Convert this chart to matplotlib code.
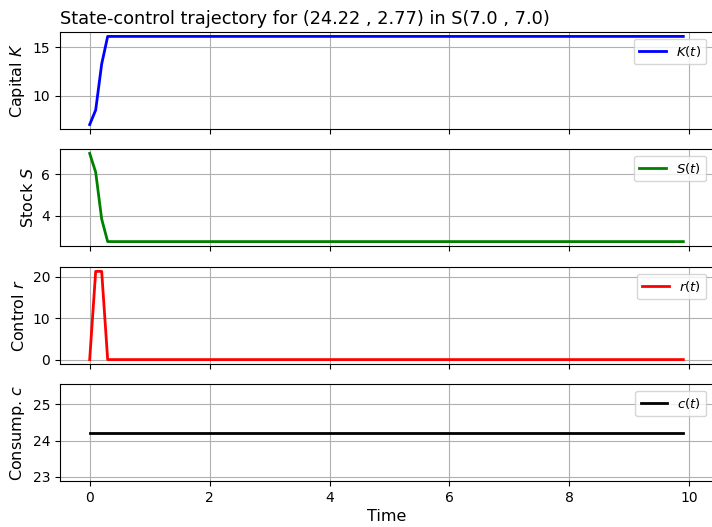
import numpy as np
import matplotlib.pyplot as plt

# time grid, step 0.1 up to 9.9
t = np.arange(100) / 10.0

# state and control paths (first few steps, then flat)
K_start = [7.0, 8.5, 13.25]
K_end = 16.1
S_start = [7.0, 6.1, 3.85]
S_end = 2.77
r_start = [0.0, 21.3, 21.3]
r_end = 0.0
c_level = 24.22

K = np.array(K_start + [K_end] * (len(t) - len(K_start)))
S = np.array(S_start + [S_end] * (len(t) - len(S_start)))
r = np.array(r_start + [r_end] * (len(t) - len(r_start)))
c = np.full(len(t), c_level)

series = [
    (K, 'blue', r'$K(t)$', r'Capital $K$'),
    (S, 'green', r'$S(t)$', r'Stock $S$'),
    (r, 'red', r'$r(t)$', r'Control $r$'),
    (c, 'black', r'$c(t)$', r'Consump. $c$'),
]

fig = plt.figure(figsize=(7.12, 5.27), dpi=100)

H = 527.0
W = 712.0
tops = [32, 149, 267, 384]
height = 97
left = 60 / W
width = 653 / W

axes = []
for i, (y, col, lab, ylab) in enumerate(series):
    bottom = 1 - (tops[i] + height) / H
    ax = fig.add_axes([left, bottom, width, height / H],
                      sharex=axes[0] if axes else None)
    ax.plot(t, y, color=col, lw=2, label=lab)
    ax.set_ylabel(ylab, fontsize=11.5)
    ax.grid(True)
    ax.legend(loc='upper right', fontsize=9.5)
    if i < 3:
        ax.tick_params(labelbottom=False)
    axes.append(ax)

axes[0].set_title('State-control trajectory for (24.22 , 2.77) in S(7.0 , 7.0)',
                  loc='left', fontsize=12.8)
axes[-1].set_xlabel('Time', fontsize=11.5, labelpad=3)

fig.savefig('out.png', dpi=100)
